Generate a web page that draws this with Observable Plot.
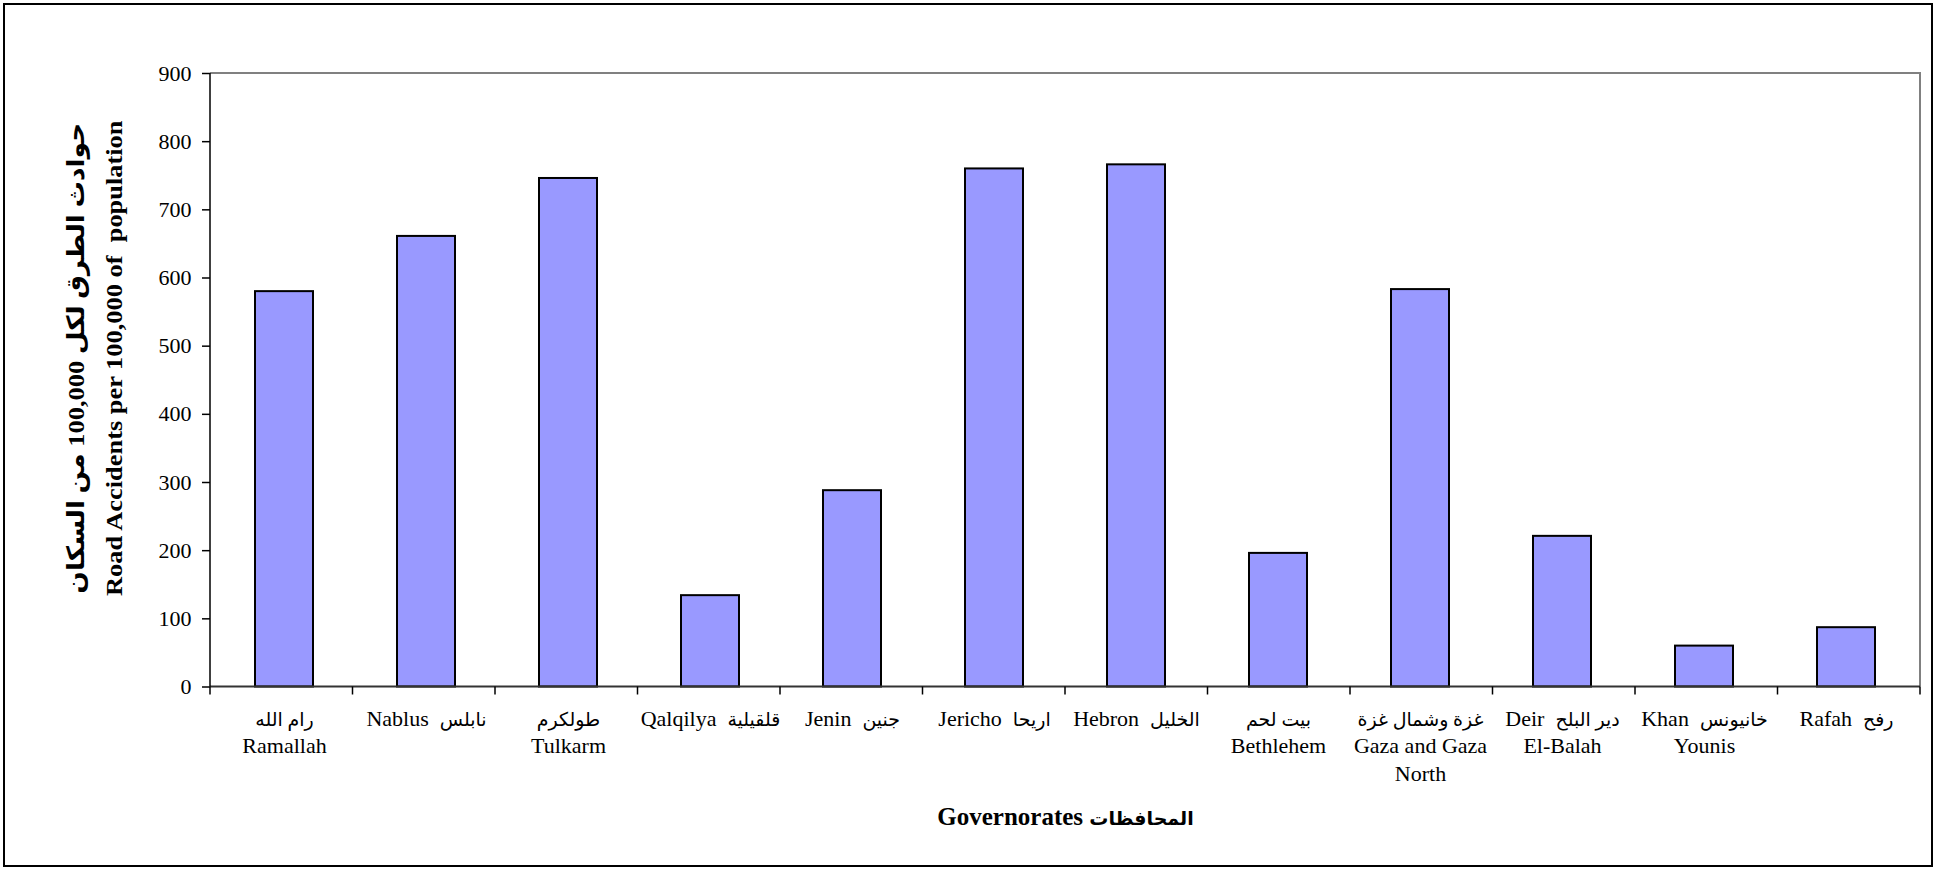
<!DOCTYPE html>
<html><head><meta charset="utf-8">
<script src="https://cdn.jsdelivr.net/npm/d3@7"></script>
<script src="https://cdn.jsdelivr.net/npm/@observablehq/plot@0.6"></script>
<style>
html,body{margin:0;padding:0;background:#fff;width:1936px;height:869px;overflow:hidden;}
#chart{position:absolute;left:0;top:0;}
#frame{position:absolute;left:3px;top:3px;width:1930px;height:864px;box-sizing:border-box;border:2px solid #000;pointer-events:none;}
</style></head><body>
<div id="chart"></div><div id="frame"></div>
<script>
// Categories (Arabic + English labels as in the source chart)
const governorates = [
  "رام الله\nRamallah",
  "Nablus  نابلس",
  "طولكرم\nTulkarm",
  "Qalqilya  قلقيلية",
  "Jenin  جنين",
  "Jericho  اريحا",
  "Hebron  الخليل",
  "بيت لحم\nBethlehem",
  "غزة وشمال غزة\nGaza and Gaza\nNorth",
  "Deir  دير البلح\nEl-Balah",
  "Khan  خانيونس\nYounis",
  "Rafah  رفح"
];
// Road accidents per 100,000 of population
const rates = [580, 661, 746, 134, 288, 760, 766, 196, 583, 221, 60, 87];
const yTicks = [0, 100, 200, 300, 400, 500, 600, 700, 800, 900];
const yTitle = "حوادث الطرق لكل 100,000 من السكان\nRoad Accidents per 100,000 of  population";
const xTitleEn = "Governorates";
const xTitleAr = "المحافظات";

const data = governorates.map((g, i) => ({governorate: g, rate: rates[i]}));

const W = 1936, H = 869, ML = 210, MR = 16, MT = 73, MB = 182.5;

function axesAndFrame(index, scales, values, dims) {
  const d = (dims && dims.marginLeft != null) ? dims :
    {width: W, height: H, marginLeft: ML, marginRight: MR, marginTop: MT, marginBottom: MB};
  const x0 = d.marginLeft, x1 = d.width - d.marginRight;
  const y0 = d.marginTop, y1 = d.height - d.marginBottom;
  const n = governorates.length, step = (x1 - x0) / n;
  const g = d3.create("svg:g");
  g.append("path").attr("d", `M${x0},${y0}H${x1}V${y1}`)
    .attr("fill", "none").attr("stroke", "#808080").attr("stroke-width", 2);
  g.append("line").attr("x1", x0).attr("x2", x1).attr("y1", y1).attr("y2", y1)
    .attr("stroke", "#333").attr("stroke-width", 2);
  g.append("line").attr("x1", x0).attr("x2", x0).attr("y1", y0).attr("y2", y1)
    .attr("stroke", "#000").attr("stroke-width", 1.5);
  for (let i = 0; i <= n; ++i) {
    g.append("line").attr("x1", x0 + i * step).attr("x2", x0 + i * step)
      .attr("y1", y1).attr("y2", y1 + 8)
      .attr("stroke", "#000").attr("stroke-width", 1.5);
  }
  return g.node();
}

const svg = Plot.plot({
  width: W, height: H,
  marginLeft: ML, marginRight: MR, marginTop: MT, marginBottom: MB,
  style: {fontFamily: "'Liberation Serif', 'DejaVu Sans', serif", background: "#fff", color: "#000"},
  x: {domain: governorates, paddingInner: 0.59, paddingOuter: 0.295, label: null},
  y: {domain: [0, 900], label: null},
  marks: [
    Plot.barY(data, {x: "governorate", y: "rate", fill: "#9999FF", stroke: "#000", strokeWidth: 2}),
    axesAndFrame,
    Plot.axisY({ticks: yTicks, tickSize: 8, tickPadding: 11, fontSize: 22, tickFormat: d => String(d), strokeWidth: 1.5, label: null}),
    Plot.axisX({tickSize: 0, tickPadding: 19, fontSize: 22, lineHeight: 1.25, tickFormat: d => d, label: null}),
    Plot.text([yTitle], {text: d => d, frameAnchor: "left", rotate: -90, dx: -120, dy: -22,
      fontSize: 24, fontWeight: "bold", lineHeight: 1.6, textAnchor: "middle", lineAnchor: "middle"}),
    Plot.text([xTitleEn + " " + xTitleAr], {text: d => d, frameAnchor: "bottom", dy: 130,
      fontSize: 25, fontWeight: "bold", textAnchor: "middle", lineAnchor: "middle"})
  ]
});
document.getElementById("chart").append(svg);

const ns = "http://www.w3.org/2000/svg";
function stretch(el, k) {
  const w = el.getComputedTextLength();
  el.setAttribute("textLength", (w * k).toFixed(1));
  el.setAttribute("lengthAdjust", "spacingAndGlyphs");
}
// Make Arabic runs a little smaller, as in the source rendering
const arabicRun = /([\u0600-\u06FF][\u0600-\u06FF ]*[\u0600-\u06FF]|[\u0600-\u06FF])/;
function shrinkArabic(el, size) {
  const parts = el.textContent.split(arabicRun).filter(s => s.length);
  if (parts.length < 1) return;
  el.textContent = "";
  for (const p of parts) {
    const s = document.createElementNS(ns, "tspan");
    s.textContent = p;
    if (arabicRun.test(p)) s.setAttribute("font-size", size);
    el.append(s);
  }
}
svg.querySelectorAll('g[aria-label="x-axis tick label"] text').forEach(t => {
  const lines = t.querySelectorAll("tspan");
  (lines.length ? Array.from(lines) : [t]).forEach(l => shrinkArabic(l, 19));
});
svg.querySelectorAll("text").forEach(t => {
  if (t.textContent.includes("Road Accidents")) {
    const ts = t.querySelectorAll("tspan");
    (ts.length ? Array.from(ts) : [t]).forEach(s => stretch(s, 1.1));
  }
  if (t.textContent === xTitleEn + " " + xTitleAr) {
    t.textContent = "";
    const a = document.createElementNS(ns, "tspan");
    a.textContent = xTitleEn + " ";
    const b = document.createElementNS(ns, "tspan");
    b.textContent = xTitleAr;
    b.setAttribute("font-size", 19);
    t.append(a, b);
  }
});
</script>
</body></html>
